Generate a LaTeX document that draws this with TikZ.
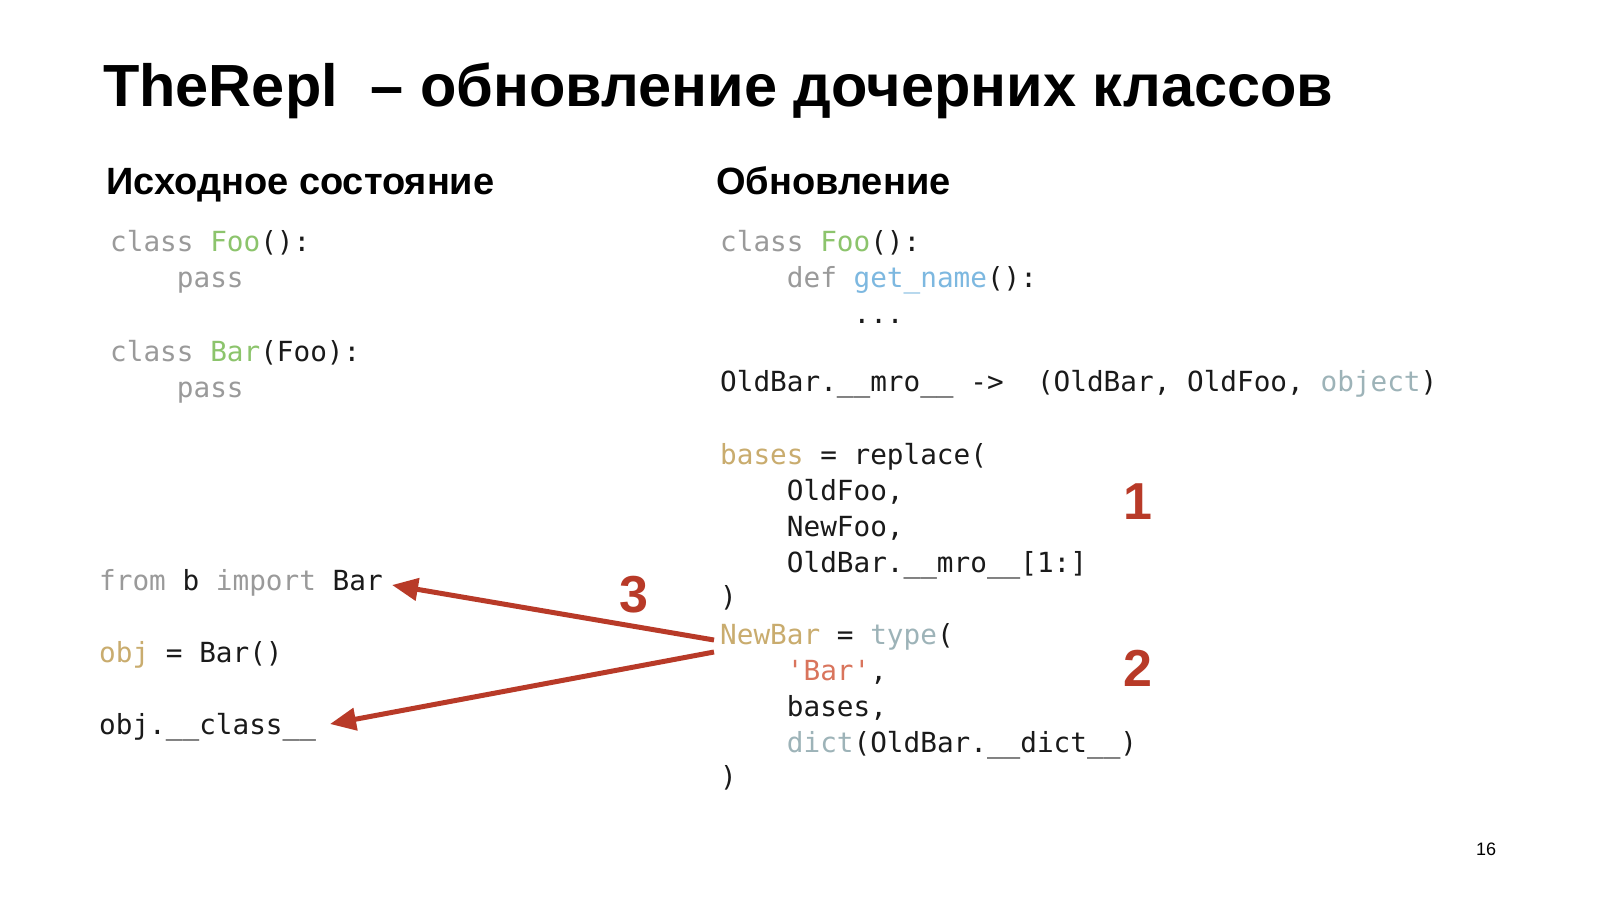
\documentclass[tikz,border=0pt]{standalone}
\usepackage{fontspec}
\setmainfont{Liberation Sans}
\newfontfamily\codefont{DejaVu Sans Mono}[Scale=1.0]
\usetikzlibrary{arrows.meta}
\definecolor{kw}{HTML}{9A9A9A}
\definecolor{cls}{HTML}{8CC46C}
\definecolor{fn}{HTML}{7DB8E0}
\definecolor{var}{HTML}{C9AC6E}
\definecolor{str}{HTML}{D9745C}
\definecolor{bi}{HTML}{9DB3B8}
\definecolor{arr}{HTML}{B83A28}
\definecolor{txt}{HTML}{1A1A1A}
\begin{document}
\begin{tikzpicture}[x=1pt,y=-1pt,
  code/.style={anchor=base west,inner sep=0pt,font=\codefont\fontsize{27.7}{30}\selectfont,text=txt},
  num/.style={anchor=base,inner sep=0pt,font=\bfseries\fontsize{52}{60}\selectfont,text=arr},
  conn/.style={draw=arr,line width=5pt,-{Triangle[length=26pt,width=22pt]}}]
\useasboundingbox[fill=white] (0,0) rectangle (1600,900);
\node[anchor=base west,inner sep=0pt,font=\bfseries\fontsize{59.5}{66}\selectfont] (title) at (103,106) {TheRepl \ – обновление дочерних классов};
\node[anchor=base west,inner sep=0pt,font=\bfseries\fontsize{38}{44}\selectfont] (h1) at (106,194) {Исходное состояние};
\node[anchor=base west,inner sep=0pt,font=\bfseries\fontsize{38}{44}\selectfont] (h2) at (716,194) {Обновление};
% left code
\node[code] (l1) at (110,251) {\textcolor{kw}{class} \textcolor{cls}{Foo}():};
\node[code] (l2) at (110,287) {\textcolor{kw}{\ \ \ \ pass}};
\node[code] (l3) at (110,361) {\textcolor{kw}{class} \textcolor{cls}{Bar}(Foo):};
\node[code] (l4) at (110,397) {\textcolor{kw}{\ \ \ \ pass}};
\node[code] (b1) at (99,590) {\textcolor{kw}{from} b \textcolor{kw}{import} Bar};
\node[code] (b2) at (99,662) {\textcolor{var}{obj} = Bar()};
\node[code] (b3) at (99,734) {obj.\_\_class\_\_};
% right code
\node[code] (r1) at (720,251) {\textcolor{kw}{class} \textcolor{cls}{Foo}():};
\node[code] (r2) at (720,287) {\ \ \ \ \textcolor{kw}{def} \textcolor{fn}{get\_name}():};
\node[code] (r3) at (720,323) {\ \ \ \ \ \ \ \ ...};
\node[code] (r4) at (720,391) {OldBar.\_\_mro\_\_ -> \ (OldBar, OldFoo, \textcolor{bi}{object})};
\node[code] (r5) at (720,464) {\textcolor{var}{bases} = replace(};
\node[code] (r6) at (720,500) {\ \ \ \ OldFoo,};
\node[code] (r7) at (720,536) {\ \ \ \ NewFoo,};
\node[code] (r8) at (720,572) {\ \ \ \ OldBar.\_\_mro\_\_[1:]};
\node[code] (r9) at (720,606) {)};
\node[code] (r10) at (720,644) {\textcolor{var}{NewBar} = \textcolor{bi}{type}(};
\node[code] (r11) at (720,680) {\ \ \ \ \textcolor{str}{'Bar'},};
\node[code] (r12) at (720,716) {\ \ \ \ bases,};
\node[code] (r13) at (720,752) {\ \ \ \ \textcolor{bi}{dict}(OldBar.\_\_dict\_\_)};
\node[code] (r14) at (720,786) {)};
\node[num] (n1) at (1138,519) {1};
\node[num] (n2) at (1138,686) {2};
\node[num] (n3) at (634,612) {3};
\node[anchor=base,inner sep=0pt,font=\fontsize{18}{20}\selectfont] (pg) at (1486,855) {16};
\coordinate (s1) at (714,640);
\coordinate (s2) at (714,652);
\coordinate (e1) at (392,585);
\coordinate (e2) at (330,724);
\draw[conn] (s1) -- (e1);
\draw[conn] (s2) -- (e2);
\end{tikzpicture}
\end{document}
